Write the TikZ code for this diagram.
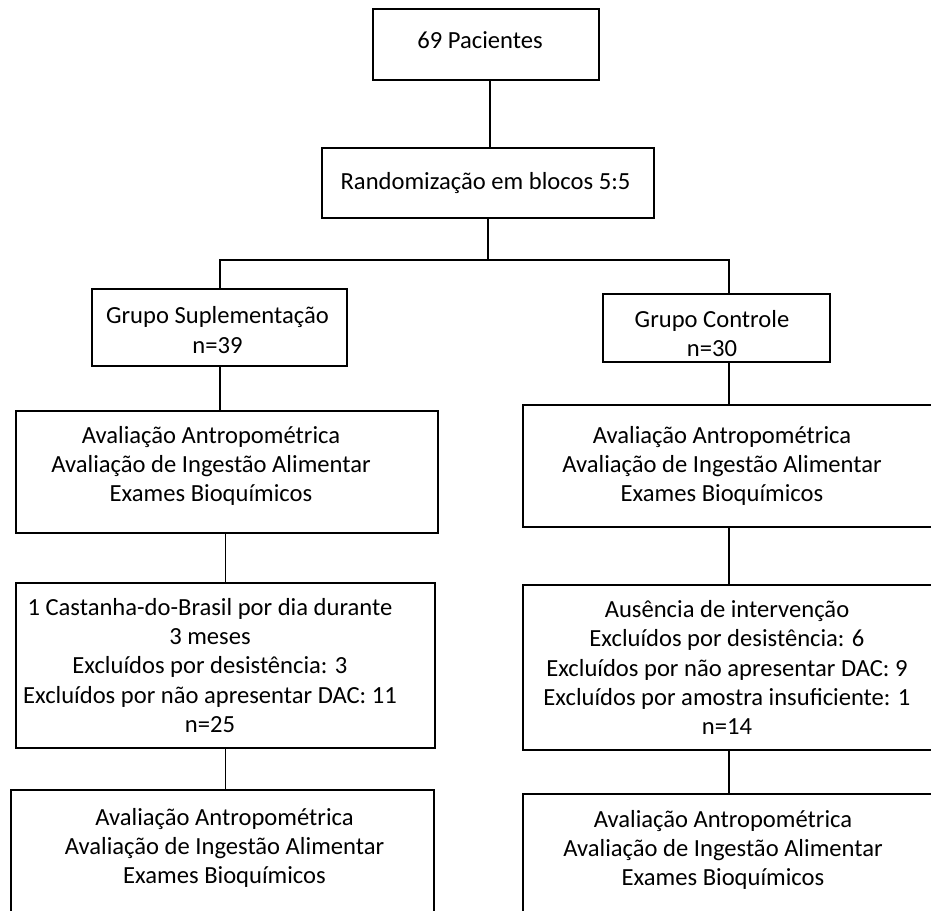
\documentclass[tikz,border=0pt]{standalone}
\usepackage{fontspec}
\setmainfont{Carlito}
\usepackage{tikz}

\newcommand{\boxfont}{\fontsize{12.3}{14.6}\selectfont}

\tikzset{
  box/.style={draw, line width=0.65pt, rectangle, inner sep=0pt},
  boxtext/.style={font=\boxfont, align=center, inner sep=0pt},
  link/.style={line width=0.65pt}
}

\begin{document}
\begin{tikzpicture}[x=0.5pt, y=-0.5pt]

    \useasboundingbox (0,0) rectangle (931,910);
    \clip (0,0) rectangle (931,910);

    \node[box, minimum width=113pt, minimum height=35.5pt,
      label={[boxtext, xshift=-3pt, yshift=2.25pt]center:69 Pacientes}] (pac) at (486,44.5) {};

    \node[box, minimum width=166pt, minimum height=35pt,
      label={[boxtext, xshift=-1.25pt]center:Randomização em blocos 5:5}] (rand) at (488,183) {};

    \coordinate (sl) at (220,260);
    \coordinate (sr) at (729,260);



    \begin{scope}

      \node[box, minimum width=127.5pt, minimum height=38.5pt,
        label={[boxtext, xshift=-1pt, yshift=-1.25pt]center:{Grupo Suplementação\\n=39}}] (gs) at (219.5,327.5) {};

      \node[box, minimum width=211pt, minimum height=61pt,
        label={[boxtext, xshift=-8pt, yshift=3pt]center:{Avaliação Antropométrica\\Avaliação de Ingestão Alimentar\\Exames Bioquímicos}}] (avs) at (227,472) {};

      \node[box, minimum width=209.5pt, minimum height=82.5pt,
        label={[boxtext, xshift=-7.75pt]center:{1 Castanha-do-Brasil por dia durante\\3 meses\\Excluídos por desistência: 3\\Excluídos por não apresentar DAC: 11\\n=25}}] (cast) at (225.5,665.5) {};

      \node[box, minimum width=211.5pt, minimum height=61pt,
        label={[boxtext, xshift=1pt, yshift=1.5pt]center:{Avaliação Antropométrica\\Avaliação de Ingestão Alimentar\\Exames Bioquímicos}}] (fims) at (222.5,851) {};

    \end{scope}



    \begin{scope}

      \node[box, minimum width=113.5pt, minimum height=34pt,
        label={[boxtext, xshift=-2.25pt, yshift=-2.75pt]center:{Grupo Controle\\n=30}}] (gc) at (716.5,328) {};

      \node[box, minimum width=206pt, minimum height=61pt,
        label={[boxtext, xshift=-3.5pt]center:{Avaliação Antropométrica\\Avaliação de Ingestão Alimentar\\Exames Bioquímicos}}] (avc) at (729,466) {};

      \node[box, minimum width=206pt, minimum height=82.5pt,
        label={[boxtext, xshift=-1pt]center:{Ausência de intervenção\\Excluídos por desistência: 6\\Excluídos por não apresentar DAC: 9\\Excluídos por amostra insuficiente: 1\\n=14}}] (ausc) at (729,667.5) {};

      \node[box, minimum width=206pt, minimum height=61pt,
        label={[boxtext, xshift=-3pt, yshift=2.5pt]center:{Avaliação Antropométrica\\Avaliação de Ingestão Alimentar\\Exames Bioquímicos}}] (fimc) at (729,855) {};

    \end{scope}



    \draw[link] ([xshift=2pt]pac.south) -- ([xshift=2pt]pac.south |- rand.north);
    \draw[link] (rand.south) -- (rand.south |- sl);
    \draw[link] (sl |- gs.north) -- (sl) -- (sr) -- (sr |- gc.north);

    \draw[link] (sl |- gs.south) -- (sl |- avs.north);
    \draw[link] (cast.north) -- (cast.north |- avs.south);
    \draw[link] (cast.south) -- (cast.south |- fims.north);

    \draw[link] (sr |- gc.south) -- (sr |- avc.north);
    \draw[link] (sr |- avc.south) -- (sr |- ausc.north);
    \draw[link] (sr |- ausc.south) -- (sr |- fimc.north);

  \end{tikzpicture}
\end{document}
